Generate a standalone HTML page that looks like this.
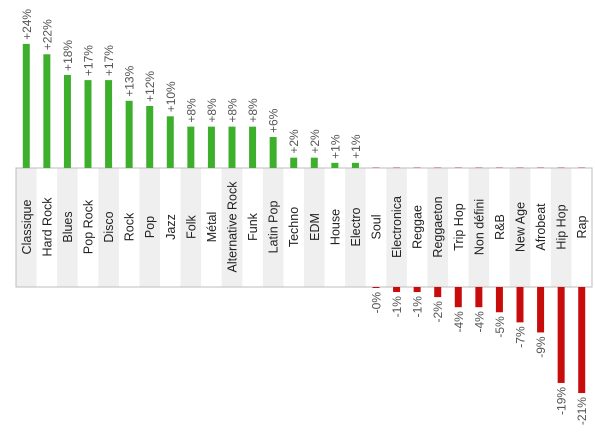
<!DOCTYPE html>
<html><head><meta charset="utf-8"><style>
html,body{margin:0;padding:0;background:#fff;}
svg{display:block;font-family:"Liberation Sans",sans-serif;}
</style></head><body>
<svg id="chart" width="595" height="437"></svg>
<script>
const categories=["Classique","Hard Rock","Blues","Pop Rock","Disco","Rock","Pop","Jazz","Folk","Métal","Alternative Rock","Funk","Latin Pop","Techno","EDM","House","Electro","Soul","Electronica","Reggae","Reggaeton","Trip Hop","Non défini","R&B","New Age","Afrobeat","Hip Hop","Rap"];
const values=[24,22,18,17,17,13,12,10,8,8,8,8,6,2,2,1,1,-0.2,-1,-1,-2,-4,-4,-5,-7,-9,-19,-21];
const valueLabels=["+24%","+22%","+18%","+17%","+17%","+13%","+12%","+10%","+8%","+8%","+8%","+8%","+6%","+2%","+2%","+1%","+1%","-0%","-1%","-1%","-2%","-4%","-4%","-5%","-7%","-9%","-19%","-21%"];
const NS="http://www.w3.org/2000/svg";
const svg=document.getElementById('chart');
const left=16,right=592,bandTop=168,bandBot=287;
const colW=(right-left)/categories.length;
const posScale=5.17,negScale=5.05;
function xc(i){return left+colW*(i+0.5);}
function yPos(v){return bandTop-v*posScale;}
function yNeg(v){return bandBot-v*negScale;}
function mk(tag,attrs){const e=document.createElementNS(NS,tag);for(const k in attrs)e.setAttribute(k,attrs[k]);svg.appendChild(e);return e;}
categories.forEach((c,i)=>{
  if(i%2===0){const bg=mk('rect',{x:left+colW*i,y:bandTop,width:colW,height:bandBot-bandTop,fill:'#efefef'});
    
    }
});
const border=mk('rect',{x:left,y:bandTop,width:right-left,height:bandBot-bandTop,fill:'none',stroke:'#bdbdbd','stroke-width':1});


categories.forEach((c,i)=>{
  const x=xc(i),v=values[i];
  const t=mk('text',{x:0,y:0,transform:`translate(${x+4.5},227) rotate(-90)`,'text-anchor':'middle','font-size':'12.5',fill:'#222'});
  t.textContent=c;
  
  
  let bar,lab;
  if(v>=0){
    const y=yPos(v);
    bar=mk('rect',{x:x-3.5,y:y,width:7,height:bandTop-y,fill:'#3eaf2c'});
    lab=mk('text',{x:0,y:0,transform:`translate(${x+4.5},${y-4}) rotate(-90)`,'text-anchor':'start','font-size':'12',fill:'#555'});
  }else{
    const y=yNeg(v);
    mk('rect',{x:x-3.5,y:bandTop-1,width:7,height:1,fill:'#d9a0a0'});
    bar=mk('rect',{x:x-3.5,y:bandBot,width:7,height:y-bandBot,fill:'#c80c0c'});
    lab=mk('text',{x:0,y:0,transform:`translate(${x+4.5},${y+4}) rotate(-90)`,'text-anchor':'end','font-size':'12',fill:'#555'});
  }
  
  
  lab.textContent=valueLabels[i];
  
  
});
</script>
</body></html>
